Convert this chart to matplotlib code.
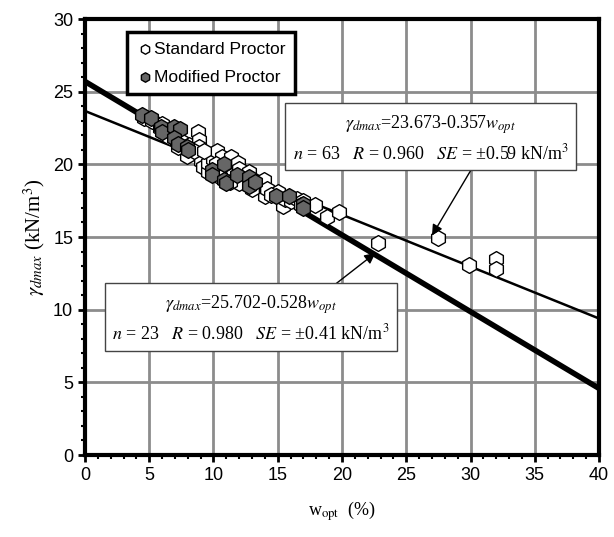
import numpy as np
import matplotlib
matplotlib.use('Agg')
import matplotlib.pyplot as plt
from matplotlib.ticker import MultipleLocator

plt.rcParams['mathtext.fontset'] = 'stix'

# Standard Proctor (n = 63)
std_w = [4.6, 5.2, 5.8, 6.3, 7.0, 7.5, 7.9, 8.1, 8.8, 8.9, 8.9, 9.0, 9.0, 9.2, 9.6, 9.6,
         10.0, 10.3, 10.5, 10.7, 11.0, 11.1, 11.4, 11.9, 11.5, 12.0, 12.3, 12.6, 13.0,
         13.2, 13.5, 13.8, 13.9, 14.0, 14.2, 15.0, 15.4, 15.6, 16.0, 16.5, 17.0, 17.9,
         18.8, 19.8, 22.8, 27.5, 29.9, 32.0, 32.0, 6.0, 6.5, 7.2, 8.5, 10.0, 10.5, 12.0,
         13.0, 14.5, 16.8, 10.2, 11.3, 12.8, 9.3]
std_g = [23.2, 23.0, 22.5, 22.2, 22.0, 21.6, 20.6, 21.3, 22.2, 21.7, 21.2, 20.6, 20.2, 19.8,
         19.5, 20.1, 20.4, 20.9, 19.8, 20.5, 19.5, 19.0, 20.5, 20.1, 19.3, 19.7, 18.9, 19.3,
         19.0, 18.5, 18.7, 18.6, 18.9, 17.8, 18.3, 18.1, 17.1, 17.6, 17.5, 17.6, 17.5, 17.2,
         16.4, 16.7, 14.6, 14.9, 13.1, 13.5, 12.8, 22.8, 21.9, 21.2, 20.9, 19.4, 19.1, 18.7,
         18.3, 17.9, 17.2, 20.0, 18.8, 19.5, 20.9]

# Modified Proctor (n = 23)
mod_w = [4.4, 5.1, 5.9, 6.0, 6.9, 7.4, 6.9, 7.2, 7.9, 9.9, 9.9, 10.8, 10.8, 11.0, 11.8,
         12.8, 12.8, 13.2, 14.9, 15.9, 17.0, 17.0, 8.0]
mod_g = [23.4, 23.2, 22.6, 22.2, 22.6, 22.4, 21.8, 21.4, 21.2, 19.6, 19.3, 20.0, 18.9, 18.7,
         19.3, 19.1, 18.5, 18.8, 17.8, 17.8, 17.3, 17.0, 21.0]

# fitted lines: gamma = a - b * w
std_fit = (23.673, 0.357)
mod_fit = (25.702, 0.528)

fig = plt.figure(figsize=(6.14, 5.37), dpi=100)
ax = fig.add_axes([0.1384, 0.1527, 0.8372, 0.8119])

w_line = np.array([0, 40])
ax.plot(w_line, std_fit[0] - std_fit[1] * w_line, color='black', lw=1.8, zorder=3)
ax.plot(w_line, mod_fit[0] - mod_fit[1] * w_line, color='black', lw=4, zorder=3)

ax.scatter(std_w, std_g, s=130, marker='h', facecolor='white', edgecolor='black',
           linewidth=1.0, zorder=4, label='Standard Proctor')
ax.scatter(mod_w, mod_g, s=130, marker='h', facecolor='#666666', edgecolor='black',
           linewidth=1.0, zorder=5, label='Modified Proctor')

ax.set_xlim(0, 40)
ax.set_ylim(0, 30)
ax.xaxis.set_major_locator(MultipleLocator(5))
ax.xaxis.set_minor_locator(MultipleLocator(1))
ax.yaxis.set_major_locator(MultipleLocator(5))
ax.yaxis.set_minor_locator(MultipleLocator(1))
ax.grid(True, which='major', color='#8c8c8c', lw=2, zorder=0)
ax.set_axisbelow(True)
for sp in ax.spines.values():
    sp.set_linewidth(3)
ax.tick_params(which='major', direction='out', length=5, width=2,
               labelsize=13, labelfontfamily='Liberation Sans')
ax.tick_params(which='minor', direction='out', length=3, width=1.5)

ax.set_ylabel(r'$\gamma_{dmax}$ (kN/m$^3$)', fontsize=15, family='Liberation Serif', labelpad=4)
ax.set_xlabel(r'w$_{\mathrm{opt}}$  (%)', fontsize=13, family='Liberation Serif', labelpad=11)

leg = ax.legend(loc='upper left', bbox_to_anchor=(0.065, 0.99), frameon=True, fancybox=False,
                edgecolor='black', framealpha=1, markerscale=0.6, handletextpad=0.0,
                handlelength=1.0, borderpad=0.55, labelspacing=0.75,
                prop={'family': 'Liberation Sans', 'size': 12.5})
leg.get_frame().set_linewidth(2.5)

box = dict(boxstyle='square,pad=0.4', facecolor='white', edgecolor='#444444', lw=1)
arrow = dict(arrowstyle='-|>', color='black', lw=1, mutation_scale=16, shrinkA=0, shrinkB=0)

ax.text(26.9, 21.8, r'$\gamma_{dmax}$=23.673-0.357$w_{opt}$' + '\n' +
        r'$n$ = 63   $R$ = 0.960   $SE$ = ±0.59 kN/m$^3$',
        ha='center', va='center', fontsize=13, family='Liberation Serif',
        linespacing=1.45, bbox=box, zorder=7)
ax.annotate('', xy=(27.0, 15.1), xytext=(30.3, 20.0), arrowprops=arrow, zorder=6)

ax.text(12.9, 9.4, r'$\gamma_{dmax}$=25.702-0.528$w_{opt}$' + '\n' +
        r'$n$ = 23   $R$ = 0.980   $SE$ = ±0.41 kN/m$^3$',
        ha='center', va='center', fontsize=13, family='Liberation Serif',
        linespacing=1.45, bbox=box, zorder=7)
ax.annotate('', xy=(22.6, 13.9), xytext=(18.1, 10.8), arrowprops=arrow, zorder=6)

fig.savefig('out.png', dpi=100)
